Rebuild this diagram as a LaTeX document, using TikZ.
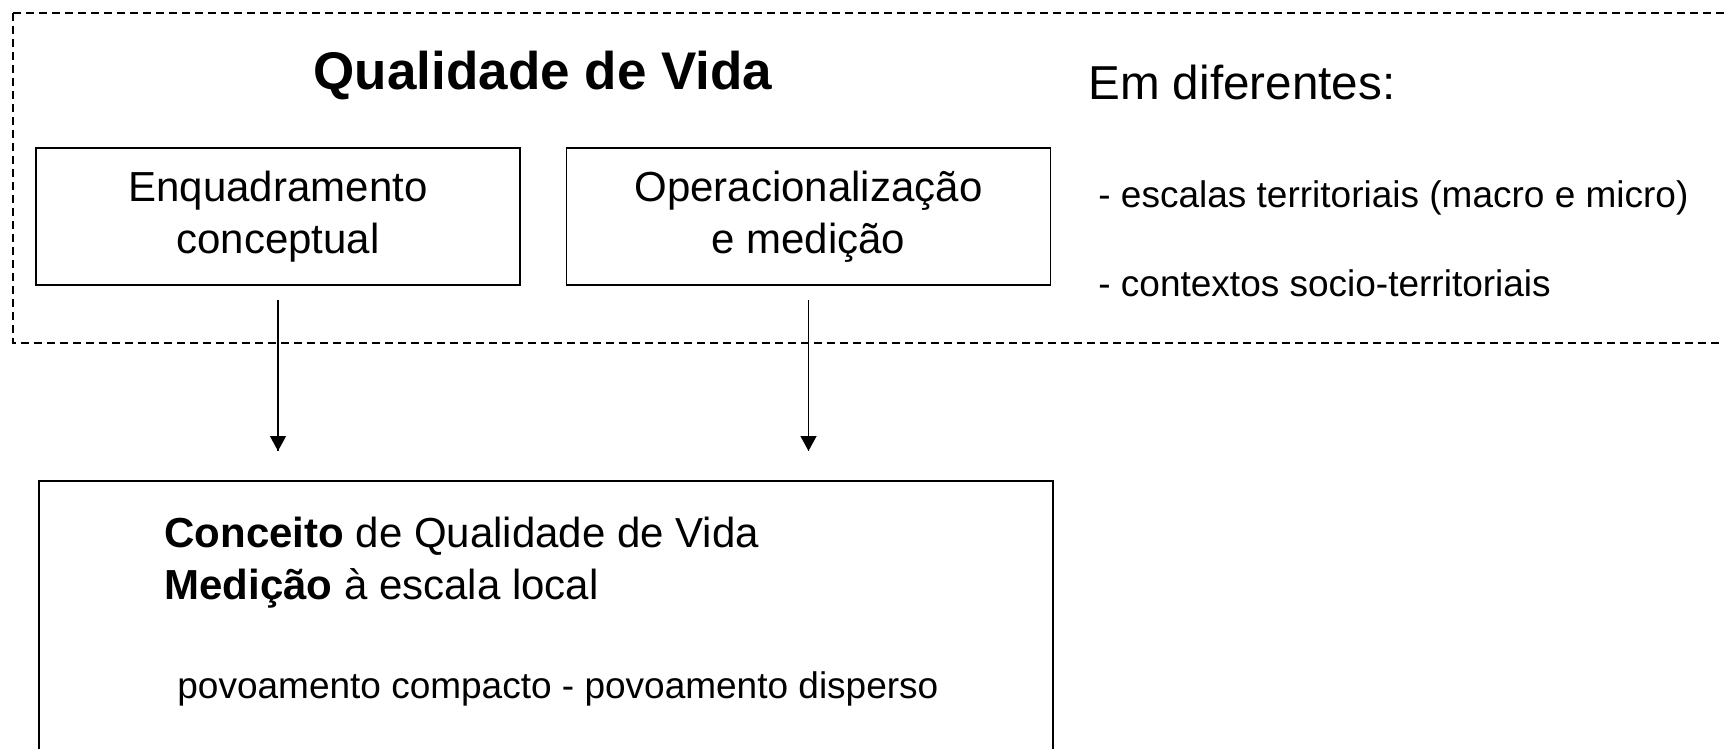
\documentclass[tikz,border=0pt]{standalone}
\usepackage{fontspec}
\setmainfont{Liberation Sans}
\usetikzlibrary{positioning, arrows.meta, decorations.markings, calc}

\begin{document}
\begin{tikzpicture}[%
		x=0.5pt, y=-0.5pt,
		node distance=22.5pt,
		box/.style={
			rectangle,
			minimum width=242pt,
			minimum height=68.5pt,
			line width=0.75pt,
			black,
			align=center,
			font=\fontsize{21}{26}\selectfont,
			draw
		},
		bigbox/.style={
			rectangle,
			minimum width=507pt,
			minimum height=200pt,
			line width=0.75pt,
			anchor=north west,
			draw
		},
		dashframe/.style={
			line width=0.6pt,
			dash pattern=on 4pt off 2.5pt
		},
		headline/.style={
			font=\fontsize{26.5}{32}\selectfont\bfseries,
			inner sep=0pt,
			anchor=base
		},
		subhead/.style={
			font=\fontsize{23.8}{28}\selectfont,
			inner sep=0pt,
			anchor=base west
		},
		itemtext/.style={
			font=\fontsize{18.5}{22}\selectfont,
			inner sep=0pt,
			anchor=base west
		},
		boxtext/.style={
			font=\fontsize{21}{26}\selectfont,
			inner sep=0pt,
			anchor=base west
		},
		flowarrow/.style={
			line width=0.6pt,
			decoration={markings,mark=at position 1 with {\arrow{Triangle[length=7.5pt,width=8pt]}}},
			postaction={decorate}
		}]

		\clip (0,0) rectangle (1724,749);

		% DASHED FRAME

		\draw[dashframe] (13,13) rectangle (1780,343);

		\node[headline] (qv) at (543,90) {Qualidade de Vida};

		\node[box] (enquad) at (278,216.5) {Enquadramento\\conceptual};
		\node[box, right=of enquad] (operac) {Operacionalização\\e medição};

		\node[subhead] (emdif) at (1088,100) {Em diferentes:};
		\node[itemtext] (escalas) at (1098,207) {- escalas territoriais (macro e micro)};
		\node[itemtext] (contextos) at (1098,296) {- contextos socio-territoriais};

		% BOTTOM BOX

		\node[bigbox] (local) at (38,480) {};
		\node[boxtext] (conceito) at (164,547) {\textbf{Conceito} de Qualidade de Vida};
		\node[boxtext] (medicao) at (164,599) {\textbf{Medição} à escala local};
		\node[itemtext] (povoamento) at (177,698) {povoamento compacto - povoamento disperso};

		% ARROWS

		\draw[flowarrow] ($(enquad.south)+(0,14)$) -- ($(enquad.south |- local.north)+(0,-29)$);
		\draw[flowarrow] ($(operac.south)+(0,14)$) -- ($(operac.south |- local.north)+(0,-29)$);
\end{tikzpicture}
\end{document}
